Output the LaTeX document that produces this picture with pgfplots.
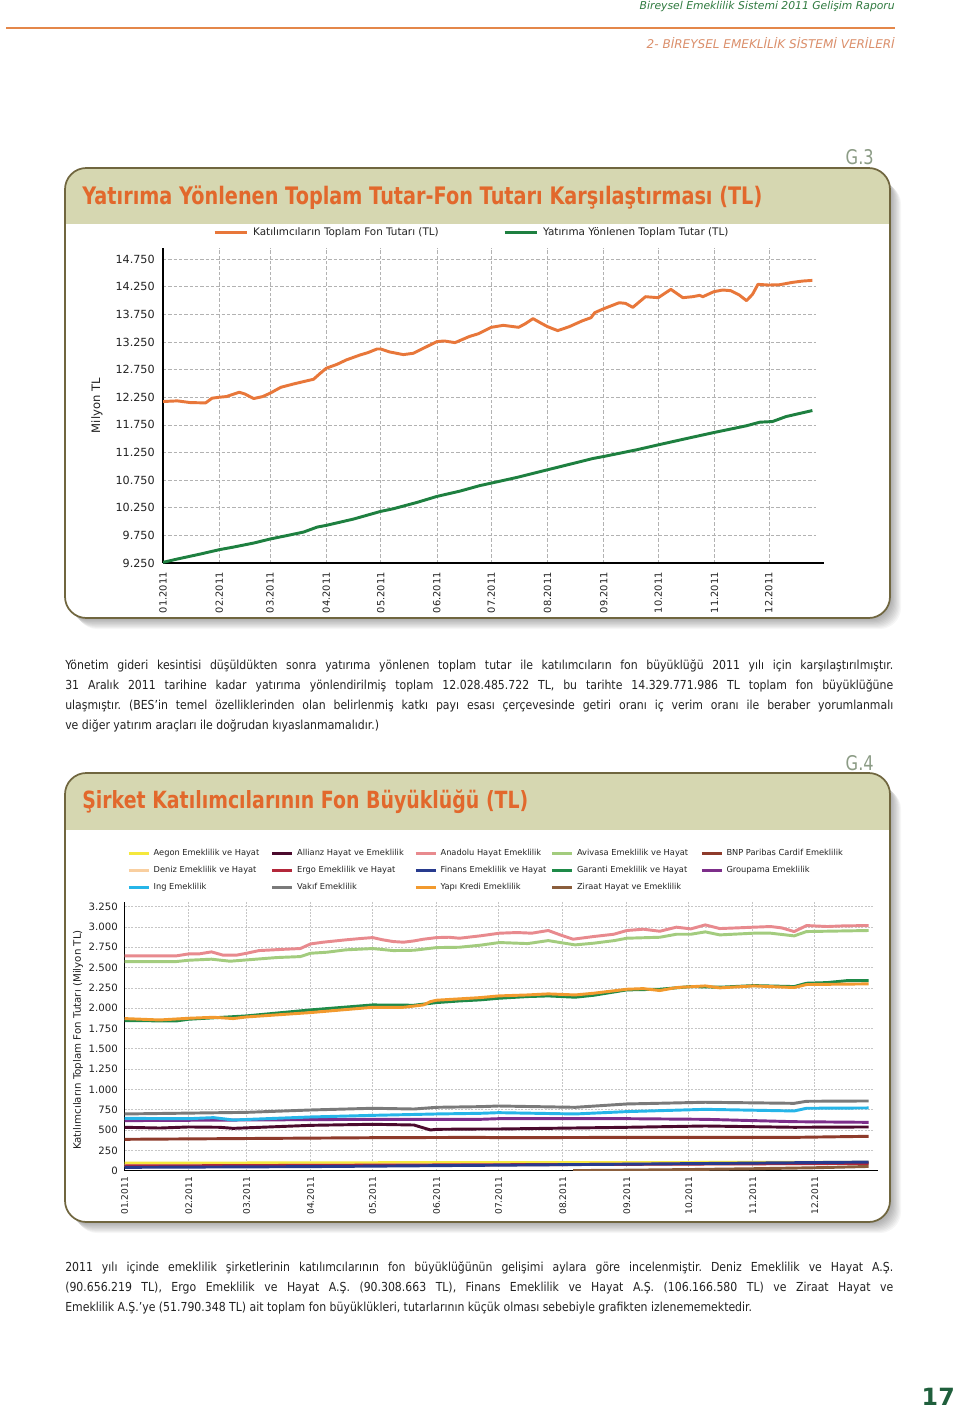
\documentclass[border=0pt]{standalone}
\usepackage{pgfplots}
\pgfplotsset{compat=1.18}
\usepackage{fontspec}
\setmainfont{DejaVu Sans}
\newfontfamily\narrowfont{DejaVu Sans}[FakeStretch=0.8]
\newfontfamily\bodyfont{DejaVu Sans}[FakeStretch=0.88]
\newlength\pxu \setlength\pxu{0.75pt}
\newcommand\W[2]{\resizebox{#1\pxu}{!}{#2}}
\definecolor{hdrgreen}{HTML}{2F7A3F}
\definecolor{rule}{HTML}{E4874A}
\definecolor{secsalmon}{HTML}{DB8F6B}
\definecolor{glabel}{HTML}{8C9C86}
\definecolor{titleor}{HTML}{E2682C}
\definecolor{band}{HTML}{D6D7B1}
\definecolor{boxborder}{HTML}{70663F}
\definecolor{bodycol}{HTML}{222222}
\definecolor{pagegreen}{HTML}{1F5F3C}
\definecolor{c1or}{HTML}{E8773A}
\definecolor{c1gr}{HTML}{1E8040}
\definecolor{aegon}{HTML}{F5E83C}
\definecolor{allianz}{HTML}{4B0A2D}
\definecolor{anadolu}{HTML}{E88A8E}
\definecolor{avivasa}{HTML}{A3CC7E}
\definecolor{bnp}{HTML}{8E3B2B}
\definecolor{deniz}{HTML}{F9CFA0}
\definecolor{ergo}{HTML}{B3273A}
\definecolor{finans}{HTML}{283B8E}
\definecolor{garanti}{HTML}{1E8A48}
\definecolor{groupama}{HTML}{7D2E8A}
\definecolor{ing}{HTML}{26B5E8}
\definecolor{vakif}{HTML}{7A7A7A}
\definecolor{yapi}{HTML}{F29A2E}
\definecolor{ziraat}{HTML}{8B5E3C}
\newcommand\panel[3]{%
  \foreach \i in {1,...,10} {\fill[black,opacity=0.035,rounded corners=16pt] (65+\i*1.1,-#1-\i*1.1-4) rectangle (890+\i*1.1,-#3-\i*1.1);}
  \fill[white, rounded corners=16pt] (65,-#1) rectangle (890,-#3);
  \begin{scope}\clip[rounded corners=16pt] (65,-#1) rectangle (890,-#3);
    \fill[band] (60,-#1+5) rectangle (895,-#2);\end{scope}
  \draw[boxborder, line width=1.3pt, rounded corners=16pt] (65,-#1) rectangle (890,-#3);}
\newcommand\Lc[2]{\makebox[#1pt][l]{#2}}
\hyphenpenalty=10000\relax
\begin{document}
\frenchspacing
\begin{tikzpicture}
\begin{scope}[x=0.75pt,y=0.75pt]
\path[use as bounding box] (0,0) rectangle (960,-1409);
\fill[white] (0,0) rectangle (960,-1409);
\node[anchor=east, inner sep=0pt, text=hdrgreen] at (895,-7) {\W{255}{\itshape Bireysel Emeklilik Sistemi 2011 Gelişim Raporu}};
\draw[rule, line width=1.6pt] (6,-28) -- (895,-28);
\node[anchor=east, inner sep=0pt, text=secsalmon] at (895,-43) {\W{248}{\itshape 2- BİREYSEL EMEKLİLİK SİSTEMİ VERİLERİ}};
% panel 1
\node[anchor=east, inner sep=0pt, text=glabel] at (874,-157) {\W{28}{\narrowfont G.3}};
\panel{168}{224}{618}
\node[anchor=west, inner sep=0pt, text=titleor] at (82,-198) {\W{680}{\narrowfont\bfseries Yatırıma Yönlenen Toplam Tutar-Fon Tutarı Karşılaştırması (TL)}};
% body 1
\node[anchor=north west, inner sep=0pt, text width=621pt, align=justify, text=bodycol, font=\bodyfont\fontsize{9.3}{15}\selectfont] at (65,-659) {Yönetim gideri kesintisi düşüldükten sonra yatırıma yönlenen toplam tutar ile katılımcıların fon büyüklüğü 2011 yılı için karşılaştırılmıştır.\linebreak
31 Aralık 2011 tarihine kadar yatırıma yönlendirilmiş toplam 12.028.485.722 TL, bu tarihte 14.329.771.986 TL toplam fon büyüklüğüne\linebreak
ulaşmıştır. (BES’in temel özelliklerinden olan belirlenmiş katkı payı esası çerçevesinde getiri oranı iç verim oranı ile beraber yorumlanmalı\linebreak
ve diğer yatırım araçları ile doğrudan kıyaslanmamalıdır.)};
% panel 2
\node[anchor=east, inner sep=0pt, text=glabel] at (874,-763) {\W{28}{\narrowfont G.4}};
\panel{773}{830}{1222}
\node[anchor=west, inner sep=0pt, text=titleor] at (82,-802) {\W{446}{\narrowfont\bfseries Şirket Katılımcılarının Fon Büyüklüğü (TL)}};
% body 2
\node[anchor=north west, inner sep=0pt, text width=621pt, align=justify, text=bodycol, font=\bodyfont\fontsize{9.3}{15}\selectfont] at (65,-1261) {2011 yılı içinde emeklilik şirketlerinin katılımcılarının fon büyüklüğünün gelişimi aylara göre incelenmiştir. Deniz Emeklilik ve Hayat A.Ş.\linebreak
(90.656.219 TL), Ergo Emeklilik ve Hayat A.Ş. (90.308.663 TL), Finans Emeklilik ve Hayat A.Ş. (106.166.580 TL) ve Ziraat Hayat ve\linebreak
Emeklilik A.Ş.’ye (51.790.348 TL) ait toplam fon büyüklükleri, tutarlarının küçük olması sebebiyle grafikten izlenememektedir.};
\node[anchor=east, inner sep=0pt, text=pagegreen] at (955,-1397) {\W{33}{\bfseries 17}};
\end{scope}

% ---------- chart 1 ----------
\begin{axis}[
  at={(122.25pt,-422.25pt)}, anchor=south west,
  scale only axis, width=489.75pt, height=236.25pt,
  xmin=0, xmax=360, ymin=9250, ymax=14950,
  axis x line*=bottom, axis y line*=left,
  axis line style={black, line width=1.1pt},
  x axis line style={shorten >=-6pt},
  major tick length=0pt,
  xtick={0,31,59,90,120,151,181,212,243,273,304,334},
  xticklabels={01.2011,02.2011,03.2011,04.2011,05.2011,06.2011,07.2011,08.2011,09.2011,10.2011,11.2011,12.2011},
  ytick={9250,9750,...,14750},
  scaled y ticks=false,
  /pgf/number format/1000 sep={.},
  /pgf/number format/assume math mode=true,
  grid=major, grid style={gray!60, line width=0.5pt, dash pattern=on 2.5pt off 1.5pt},
  xticklabel style={rotate=90, anchor=east, inner sep=0pt, font=\fontsize{7.4}{8}\selectfont, text=bodycol},
  yticklabel style={inner sep=0pt, anchor=east, font=\fontsize{8.4}{9}\selectfont, text=bodycol},
  xticklabel shift=6.75pt, yticklabel shift=6pt,
  ylabel={Milyon TL},
  ylabel style={at={(axis description cs:-0.101,0.5)}, anchor=center, font=\fontsize{8.7}{10}\selectfont, text=bodycol},
  every axis plot/.append style={line width=2.2pt, line join=round},
  legend columns=2,
  legend image code/.code={\draw[#1, line width=2.2pt] (0pt,0pt) -- (24pt,0pt);},
  legend style={at={(axis description cs:0,1)}, anchor=south west, xshift=37.5pt, yshift=7.4pt,
    draw=none, fill=none, inner sep=0pt,
    nodes={inner sep=0pt, anchor=west, font=\fontsize{7.8}{9}\selectfont, text=bodycol, text height=6pt, text depth=1.8pt},
    /tikz/every odd column/.append style={column sep=3.75pt}},
]
\addplot[c1or] coordinates {(0,12172)(7.9,12184)(15,12153)(23.5,12147)(27,12232)(31,12250)(35,12262)(42,12340)(45,12310)(50,12226)(55,12262)(59,12322)(65,12430)(72,12490)(77.5,12533)(83,12575)(86.7,12683)(90,12774)(96,12846)(101,12924)(108.7,13015)(113,13057)(118,13123)(120,13123)(125,13069)(132.5,13021)(138,13045)(143.5,13135)(151,13256)(155,13268)(161,13238)(169,13350)(174,13400)(181,13515)(187.6,13551)(196,13515)(199.5,13575)(204,13672)(208.6,13587)(212,13527)(217.6,13455)(224,13527)(231,13630)(236,13690)(238,13780)(243,13852)(251.5,13960)(255,13948)(259,13876)(266,14069)(273,14051)(280,14202)(286.6,14051)(292,14069)(295.8,14093)(297.6,14069)(303.7,14160)(308.6,14190)(313,14178)(317.7,14100)(321.7,13997)(325,14112)(328,14292)(334,14280)(340,14286)(347,14328)(352.6,14352)(358,14364)};
\addlegendentry{\Lc{187.5}{Katılımcıların Toplam Fon Tutarı (TL)}}
\addplot[c1gr] coordinates {(0,9262)(7.9,9322)(20.7,9413)(31,9491)(39,9539)(50,9611)(59,9684)(68,9744)(77.5,9810)(85,9900)(90,9931)(105,10045)(120,10184)(127,10232)(140,10346)(151,10455)(163.6,10550)(174.6,10650)(181,10696)(195,10798)(212,10937)(237,11141)(243,11178)(261,11298)(273,11388)(292,11527)(303.7,11611)(321.5,11732)(329,11798)(336,11810)(343.5,11900)(358,12009)};
\addlegendentry{Yatırıma Yönlenen Toplam Tutar (TL)}
\end{axis}

% ---------- chart 2 ----------
\begin{axis}[
  at={(93.5pt,-878pt)}, anchor=south west,
  scale only axis, width=561pt, height=201.7pt,
  xmin=0, xmax=362, ymin=0, ymax=3310,
  axis x line*=bottom, axis y line*=left,
  axis line style={black, line width=1.1pt},
  x axis line style={shorten >=-4pt},
  major tick length=0pt,
  xtick={0,31,59,90,120,151,181,212,243,273,304,334},
  xticklabels={01.2011,02.2011,03.2011,04.2011,05.2011,06.2011,07.2011,08.2011,09.2011,10.2011,11.2011,12.2011},
  ytick={0,250,...,3250},
  scaled y ticks=false,
  /pgf/number format/1000 sep={.},
  /pgf/number format/assume math mode=true,
  grid=major, grid style={gray!45, line width=0.5pt, dash pattern=on 1.5pt off 1pt},
  xticklabel style={rotate=90, anchor=east, inner sep=0pt, font=\fontsize{6.8}{8}\selectfont, text=bodycol},
  yticklabel style={inner sep=0pt, anchor=east, font=\fontsize{7.6}{9}\selectfont, text=bodycol},
  xticklabel shift=4.7pt, yticklabel shift=5pt,
  ylabel={Katılımcıların Toplam Fon Tutarı (Milyon TL)},
  ylabel style={at={(axis description cs:-0.0624,0.486)}, anchor=center, font=\fontsize{7.7}{9}\selectfont, text=bodycol},
  every axis plot/.append style={line width=2.2pt, line join=round},
  legend columns=5,
  legend image code/.code={\draw[#1, line width=2.6pt] (0pt,0pt) -- (15pt,0pt);},
  legend style={at={(axis description cs:0,1)}, anchor=south west, xshift=1.7pt, yshift=7.3pt,
    draw=none, fill=none, inner sep=0pt, row sep=6.55pt,
    nodes={inner sep=0pt, anchor=west, font=\fontsize{6.2}{7}\selectfont, text=bodycol, text height=4.8pt, text depth=1.4pt},
    /tikz/every odd column/.append style={column sep=2.25pt}},
]
\addplot[aegon] coordinates {(0,92)(120,98)(243,100)(360,104)};
\addlegendentry{\Lc{87.75}{Aegon Emeklilik ve Hayat}}
\addplot[allianz] coordinates {(0,534)(17,525)(31,538)(46,534)(52.5,521)(90,558)(120,571)(140,562)(148,501)(151,509)(172,513)(181,513)(243,534)(281,550)(324,534)(360,538)};
\addlegendentry{\Lc{87.75}{Allianz Hayat ve Emeklilik}}
\addplot[anadolu] coordinates {(0,2644)(25,2644)(31,2668)(36,2668)(42,2693)(47.7,2652)(54,2652)(59,2676)(65,2709)(78,2726)(85,2734)(90,2791)(96,2812)(107,2841)(114,2857)(120,2869)(125,2841)(130,2820)(135,2812)(140,2828)(144.6,2849)(151,2869)(157,2873)(162,2861)(172,2890)(181.4,2923)(190,2931)(197,2923)(205,2956)(210.8,2902)(217,2849)(227,2882)(236.7,2910)(243,2956)(251,2972)(259,2947)(267,2997)(274,2976)(281,3025)(288,2980)(296,2988)(304.5,2997)(312.6,3005)(318,2988)(324,2943)(330,3017)(340,3005)(348,3013)(360,3017)};
\addlegendentry{\Lc{82.5}{Anadolu Hayat Emeklilik}}
\addplot[avivasa] coordinates {(0,2574)(25,2574)(31,2590)(42,2603)(51,2578)(59,2594)(73.5,2623)(85,2635)(90,2676)(98,2689)(107,2718)(120,2734)(130,2709)(140,2713)(151,2746)(162,2750)(172,2775)(181.4,2808)(195,2795)(205,2832)(210.8,2808)(218,2779)(227,2800)(237,2832)(243,2861)(259,2873)(267,2910)(274,2910)(281,2939)(288,2902)(304.5,2923)(312.6,2923)(324,2890)(330,2943)(360,2956)};
\addlegendentry{\Lc{92.25}{Avivasa Emeklilik ve Hayat}}
\addplot[bnp] coordinates {(0,386)(120,406)(172,410)(181,406)(243,410)(324,410)(360,423)};
\addlegendentry{BNP Paribas Cardif Emeklilik}
\addplot[deniz] coordinates {(0,62)(120,70)(243,80)(360,91)};
\addlegendentry{\Lc{87.75}{Deniz Emeklilik ve Hayat}}
\addplot[ergo] coordinates {(0,58)(120,68)(243,78)(360,90)};
\addlegendentry{\Lc{87.75}{Ergo Emeklilik ve Hayat}}
\addplot[finans] coordinates {(0,41)(90,50)(172,66)(243,80)(360,106)};
\addlegendentry{\Lc{82.5}{Finans Emeklilik ve Hayat}}
\addplot[garanti] coordinates {(0,1847)(25,1843)(31,1864)(59,1905)(90,1979)(120,2040)(140,2036)(151,2069)(162,2089)(172,2102)(181,2122)(195,2143)(205,2151)(218,2135)(227,2159)(243,2225)(259,2233)(274,2266)(288,2258)(304.5,2278)(324,2266)(330,2307)(340,2315)(350,2340)(360,2340)};
\addlegendentry{\Lc{92.25}{Garanti Emeklilik ve Hayat}}
\addplot[groupama] coordinates {(0,616)(59,624)(120,632)(172,632)(181,640)(243,640)(281,632)(304.5,616)(324,603)(360,595)};
\addlegendentry{Groupama Emeklilik}
\addplot[ing] coordinates {(0,644)(31,640)(43,653)(52.5,624)(90,661)(120,681)(151,698)(172,706)(181,714)(218,698)(243,727)(281,755)(324,735)(330,768)(360,772)};
\addlegendentry{\Lc{87.75}{Ing Emeklilik}}
\addplot[vakif] coordinates {(0,698)(59,718)(90,747)(120,768)(140,759)(151,780)(172,788)(181,796)(218,780)(243,821)(281,842)(324,829)(330,854)(360,858)};
\addlegendentry{\Lc{87.75}{Vakıf Emeklilik}}
\addplot[yapi] coordinates {(0,1872)(17,1855)(31,1876)(43,1888)(52.5,1872)(59,1892)(90,1946)(120,2011)(135,2011)(144.6,2040)(148,2081)(151,2098)(172,2130)(181,2151)(195,2163)(205,2176)(218,2163)(227,2184)(243,2233)(251,2241)(259,2217)(267,2254)(281,2274)(288,2250)(304.5,2274)(324,2254)(330,2291)(360,2299)};
\addlegendentry{\Lc{82.5}{Yapı Kredi Emeklilik}}
\addplot[ziraat] coordinates {(217,1)(243,6)(273,14)(304,24)(334,36)(360,52)};
\addlegendentry{\Lc{92.25}{Ziraat Hayat ve Emeklilik}}
\end{axis}
\end{tikzpicture}
\end{document}
